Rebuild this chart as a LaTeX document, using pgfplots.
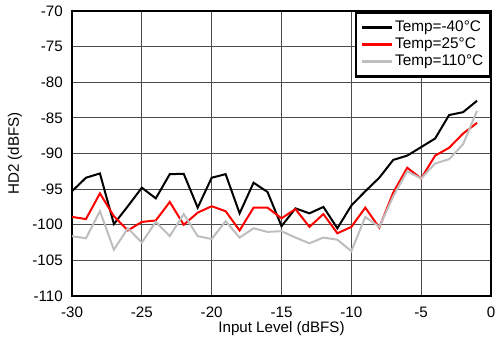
\documentclass[border=0pt]{standalone}
\usepackage{fontspec}
\setmainfont{Liberation Sans}
\usepackage{pgfplots}
\pgfplotsset{compat=1.18}
\usepackage{pgfplotstable}
\pgfplotstableread{
x black red gray
-30 -95.3 -98.9 -101.6
-29 -93.4 -99.2 -101.9
-28 -92.8 -95.6 -98.1
-27 -99.9 -98.8 -103.5
-26 -97.4 -100.8 -100.5
-25 -94.8 -99.6 -102.5
-24 -96.3 -99.4 -99.6
-23 -92.9 -96.8 -101.6
-22 -92.85 -100.0 -98.5
-21 -97.6 -98.3 -101.6
-20 -93.4 -97.4 -102.0
-19 -92.9 -98.1 -99.5
-18 -98.4 -100.8 -101.8
-17 -94.1 -97.6 -100.5
-16 -95.4 -97.6 -101.0
-15 -100.2 -99.1 -100.9
-14 -97.7 -97.8 -101.8
-13 -98.4 -100.3 -102.6
-12 -97.5 -98.5 -101.8
-11 -100.5 -101.2 -102.1
-10 -97.3 -100.3 -103.7
-9 -95.3 -97.6 -98.9
-8 -93.4 -100.4 -100.3
-7 -90.9 -95.5 -96.0
-6 -90.3 -92.0 -92.5
-5 -89.1 -93.5 -93.5
-4 -87.9 -90.3 -91.4
-3 -84.6 -89.2 -90.8
-2 -84.2 -87.2 -88.7
-1 -82.6 -85.7 -84.0
}\datatab
\definecolor{lgray}{RGB}{190,190,190}
\begin{document}
\begin{tikzpicture}
\fontsize{15.2}{17}\selectfont
\begin{axis}[
  at={(0,0)}, anchor=south west,
  scale only axis,
  width=419bp, height=285bp,
  xmin=-30, xmax=0, ymin=-110, ymax=-70,
  xtick={-30,-25,...,0}, ytick={-110,-105,...,-70},
  /pgf/number format/assume math mode=true,
  tick label style={font=\fontsize{15.2}{17}\selectfont},
  major tick length=0pt,
  grid=major,
  major grid style={black!70, line width=0.9bp},
  axis line style={line width=2.5bp},
  xticklabel style={yshift=-6bp},
  yticklabel style={xshift=-4bp},
  xlabel={Input Level (dBFS)},
  ylabel={HD2 (dBFS)},
  every axis x label/.style={at={(axis description cs:0.5,-0.115)}, anchor=center, font=\fontsize{15.2}{17}\selectfont},
  every axis y label/.style={at={(axis description cs:-0.136,0.5)}, anchor=center, rotate=90, font=\fontsize{15.2}{17}\selectfont},
  legend style={draw=black, line width=2.5bp, fill=white, at={(1,1)}, anchor=north east,
    inner xsep=5bp, inner ysep=6.5bp, row sep=0bp,
    nodes={font=\fontsize{15.4}{17}\selectfont, inner sep=1.5bp, text height=11bp, text depth=3bp}},
  legend cell align=left,
  legend image code/.code={\draw[#1, line width=2.5bp] (0bp,0bp) -- (30bp,0bp);},
]
\addplot[black, line width=2bp] table[x=x, y=black] {\datatab};
\addplot[red, line width=2bp] table[x=x, y=red] {\datatab};
\addplot[lgray, line width=2bp] table[x=x, y=gray] {\datatab};
\legend{Temp=-40°C, Temp=25°C, Temp=110°C}
\end{axis}
\pgfresetboundingbox
\path (-72bp,-48bp) rectangle (423bp,296bp);
\end{tikzpicture}
\end{document}
